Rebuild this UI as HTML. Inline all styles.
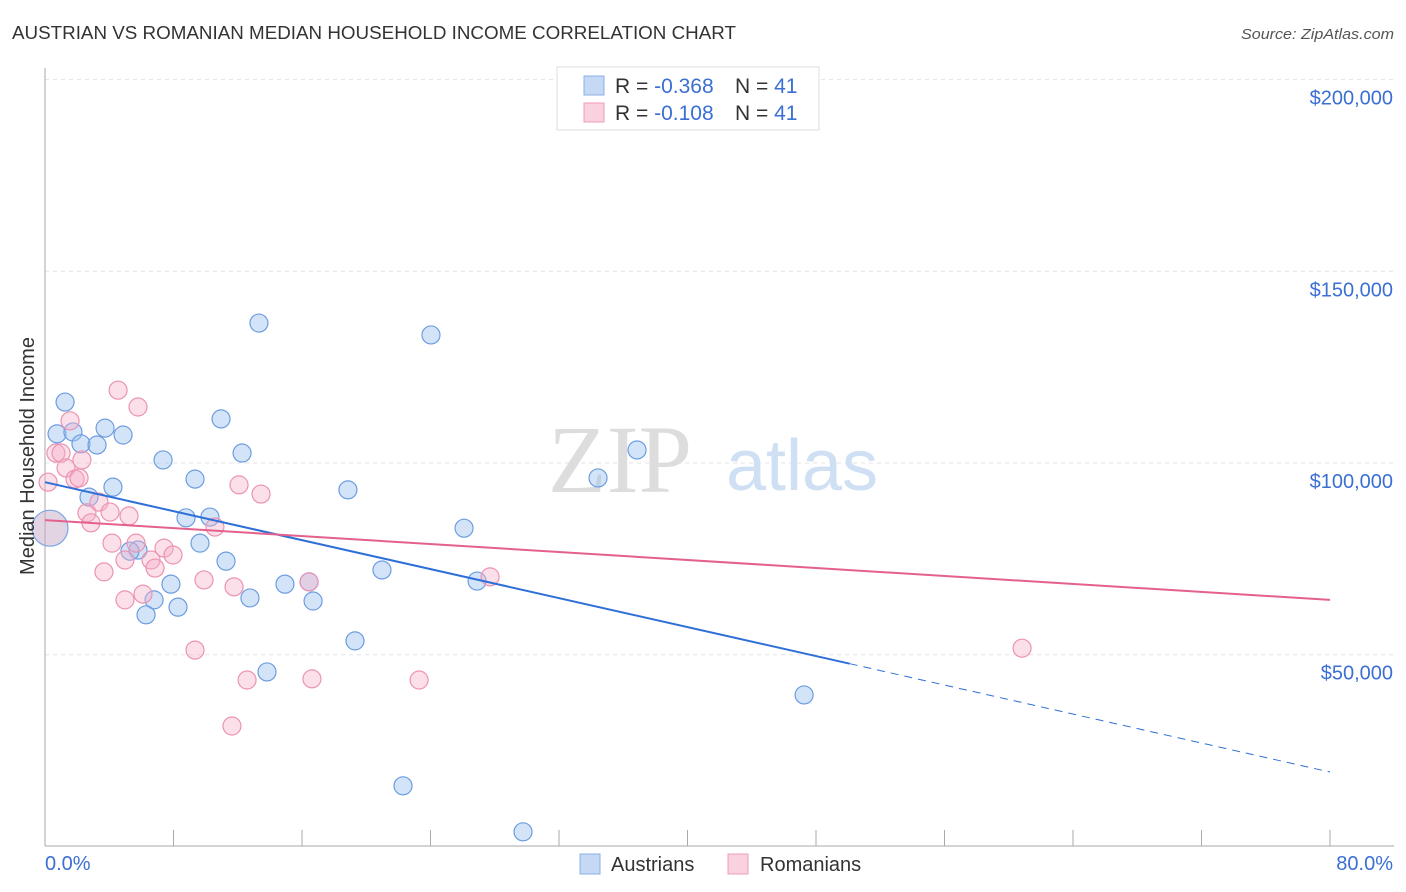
<!DOCTYPE html>
<html><head><meta charset="utf-8"><style>
body{margin:0;background:#fff;font-family:"Liberation Sans",sans-serif;}
#c{position:absolute;left:0;top:0;}
</style></head><body>
<svg id="c" width="1406" height="892">
<text x="12" y="39" font-size="18" fill="#333" textLength="724" lengthAdjust="spacingAndGlyphs">AUSTRIAN VS ROMANIAN MEDIAN HOUSEHOLD INCOME CORRELATION CHART</text>
<text x="1241" y="39" font-size="15" fill="#555" font-style="italic" textLength="153" lengthAdjust="spacingAndGlyphs">Source: ZipAtlas.com</text>
<g id="grid"></g>
<text x="620" y="492" font-size="96" fill="#ddd" font-family="Liberation Serif,serif" text-anchor="middle">ZIP</text>
<text x="802" y="490" font-size="72" fill="#cfe0f4" text-anchor="middle">atlas</text>
<g id="pts"></g>
<g id="lines"></g>
<text transform="translate(34,456) rotate(-90)" font-size="20" fill="#333" text-anchor="middle">Median Household Income</text>
<text x="45" y="870" font-size="20" fill="#3b6fd4">0.0%</text>
<text x="1393" y="870" font-size="20" fill="#3b6fd4" text-anchor="end">80.0%</text>
<g>
<rect x="580" y="854" width="20" height="20" fill="#c5d9f5" stroke="#8ab0e8"/>
<text x="611" y="871" font-size="20" fill="#333">Austrians</text>
<rect x="728" y="854" width="20" height="20" fill="#fad2df" stroke="#f09ab5"/>
<text x="760" y="871" font-size="20" fill="#333">Romanians</text>
</g>
<g>
<rect x="557" y="67" width="262" height="63" fill="#fff" stroke="#ddd"/>
<rect x="584" y="76" width="20" height="19" fill="#c5d9f5" stroke="#8ab0e8"/>
<rect x="584" y="103" width="20" height="19" fill="#fad2df" stroke="#f09ab5"/>
<text x="615" y="93" font-size="21" fill="#333">R = <tspan fill="#3b6fd4">-0.368</tspan><tspan x="735">N = </tspan><tspan fill="#3b6fd4">41</tspan></text>
<text x="615" y="120" font-size="21" fill="#333">R = <tspan fill="#3b6fd4"> -0.108</tspan><tspan x="735">N = </tspan><tspan fill="#3b6fd4">41</tspan></text>
</g>
</svg>
<script>
const yTicks=[50000,100000,150000,200000];
const yTickLabels=["$50,000","$100,000","$150,000","$200,000"];
const ausX=[1.25,0.75,1.74,2.24,3.24,3.74,4.86,4.23,2.74,7.35,9.34,10.96,12.27,13.32,8.78,10.27,9.65,11.27,5.79,5.29,7.84,6.79,8.28,6.29,12.76,14.94,16.44,16.69,13.82,18.86,20.98,19.30,24.03,26.09,26.90,34.43,36.86,22.29,29.76,47.26];
const ausY=[115.9,107.6,108.1,105.0,104.7,109.1,107.3,93.7,91.1,100.8,95.8,111.5,102.6,136.5,85.7,85.9,79.1,74.4,77.3,77.0,68.4,64.3,62.4,60.4,64.8,68.4,69.0,64.0,45.5,93.0,72.1,53.6,133.4,83.0,69.2,96.1,103.4,15.8,3.8,39.5];
const romX=[0.19,0.68,1.0,1.31,1.56,1.87,2.12,2.30,2.61,2.86,3.36,3.67,4.17,4.55,4.98,4.98,4.05,5.23,5.67,5.79,6.10,6.60,6.85,7.41,7.97,9.34,9.90,10.58,11.77,12.08,12.58,13.45,11.64,16.44,16.62,23.29,27.71,60.83];
const romY=[95.0,102.6,102.6,98.7,111.0,95.8,96.1,100.8,87.0,84.4,89.8,71.6,79.1,119.0,74.7,64.3,87.2,86.2,79.1,114.6,65.8,74.7,72.6,77.8,76.0,51.2,69.5,83.3,67.7,94.3,43.4,91.9,31.4,69.0,43.7,43.4,70.3,51.7];
const bigPoint=[0.31,83.0];
const ausTrend=[95.0,19.4], romTrend=[85.1,64.3], ausSolidEnd=50.1;
const NS="http://www.w3.org/2000/svg";
const X=v=>45+v*1285/80;
const Y=k=>463-(k-100)*191.7/50;
function mk(t,a,p){const e=document.createElementNS(NS,t);for(const k in a)e.setAttribute(k,a[k]);p.appendChild(e);return e;}
const g=document.getElementById('grid');
yTicks.forEach((v,i)=>{
 const l=mk('line',{x1:45,x2:1394,y1:Y(v/1000),y2:Y(v/1000),stroke:'#e3e3e3','stroke-dasharray':'4,4'},g);
 
 
 const t=mk('text',{x:1393,y:Y(v/1000)+25,'font-size':20,fill:'#3b6fd4','text-anchor':'end'},g);
 t.textContent=yTickLabels[i];
 
 
});
const ax=mk('line',{x1:45,x2:45,y1:68,y2:846,stroke:'#aaa'},g);


const bx=mk('line',{x1:45,x2:1394,y1:846,y2:846,stroke:'#aaa'},g);


for(let i=0;i<=10;i++){
 const t=mk('line',{x1:X(i*8),x2:X(i*8),y1:830,y2:846,stroke:'#aaa'},g);
 
 
}
const p=document.getElementById('pts');
function dot(x,y,r,f,s,n){const c=mk('circle',{cx:X(x),cy:Y(y),r:r,fill:f,stroke:s,'stroke-width':1.2},p);
 
 }
ausX.forEach((x,i)=>dot(x,ausY[i],9,'rgba(160,195,240,0.45)','#6d9de0','point-austrians'));
romX.forEach((x,i)=>dot(x,romY[i],9,'rgba(246,175,200,0.4)','#ec93b2','point-romanians'));
dot(bigPoint[0],bigPoint[1],18,'rgba(200,170,200,0.5)','#7aa6e6','point-large');
const L=document.getElementById('lines');
const a1=ausTrend[0]+(ausTrend[1]-ausTrend[0])*ausSolidEnd/80;
const l1=mk('line',{x1:X(0),y1:Y(ausTrend[0]),x2:X(ausSolidEnd),y2:Y(a1),stroke:'#2f6fd8','stroke-width':2},L);


const l2=mk('line',{x1:X(ausSolidEnd),y1:Y(a1),x2:X(80),y2:Y(ausTrend[1]),stroke:'#2f6fd8','stroke-width':1,'stroke-dasharray':'8,6'},L);


const l3=mk('line',{x1:X(0),y1:Y(romTrend[0]),x2:X(80),y2:Y(romTrend[1]),stroke:'#e4608d','stroke-width':2},L);


</script>
</body></html>
